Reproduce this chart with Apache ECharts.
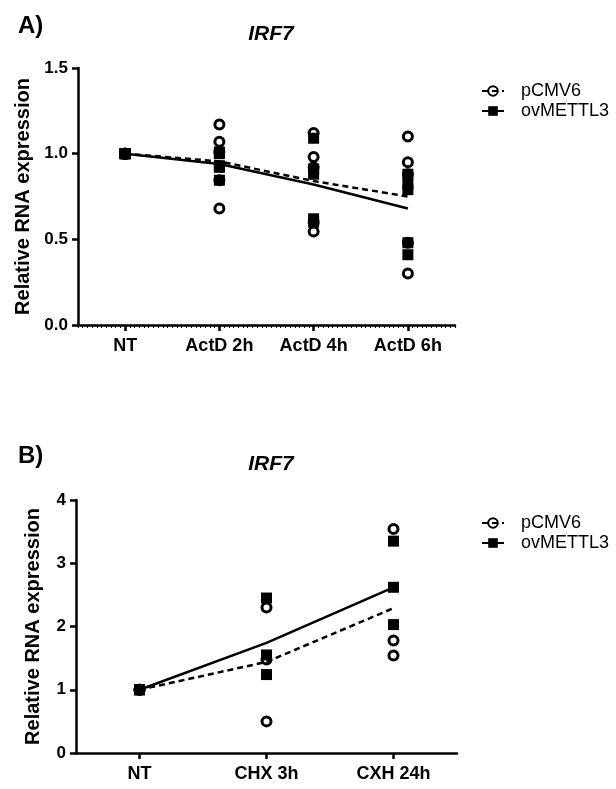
<!DOCTYPE html>
<html><head><meta charset="utf-8">
<script src="https://cdn.jsdelivr.net/npm/echarts@6/dist/echarts.min.js"></script>
<style>html,body{margin:0;padding:0;background:#fff}#c{width:616px;height:789px}</style>
</head><body><div id="c"></div>
<script>
// ---- Panel A data ----
const categoriesA = ['NT', 'ActD 2h', 'ActD 4h', 'ActD 6h'];
const pcmv6A = [[1, 1, 1, 1, 1], [1.17, 1.07, 1.01, 0.845, 0.68], [1.12, 0.98, 0.92, 0.60, 0.545], [1.10, 0.95, 0.88, 0.48, 0.30]];
const ovA = [[1, 1, 1, 1, 1], [1.01, 1.00, 0.93, 0.92, 0.845], [1.09, 0.91, 0.88, 0.62, 0.60], [0.88, 0.82, 0.79, 0.48, 0.41]];
const pcmv6MeanA = [1.0, 0.955, 0.84, 0.75];
const ovMeanA = [1.0, 0.94, 0.82, 0.68];
const yMaxA = 1.5, yStepA = 0.5;

// ---- Panel B data ----
const categoriesB = ['NT', 'CHX 3h', 'CXH 24h'];
const pcmv6B = [[1, 1, 1], [2.30, 1.48, 0.50], [3.54, 1.78, 1.54]];
const ovB = [[1, 1, 1], [2.45, 1.55, 1.24], [3.35, 2.62, 2.03]];
const pcmv6MeanB = [1.0, 1.44, 2.29];
const ovMeanB = [1.0, 1.74, 2.62];
const yMaxB = 4, yStepB = 1;

const FONT = 'Liberation Sans, Arial, sans-serif';
const chart = echarts.init(document.getElementById('c'), null, {renderer: 'canvas'});

function flat(groups) { return groups.flatMap((g, i) => g.map(v => [i, v])); }

const circleStyle = {color: 'rgba(0,0,0,0)', borderColor: '#000', borderWidth: 3, opacity: 1};
const squareStyle = {color: '#000', borderWidth: 0, opacity: 1};

function yAxisDef(grid, max, step, digits, gap) {
  return {
    type: 'value', gridIndex: grid, min: 0, max: max, interval: step,
    name: 'Relative RNA expression', nameLocation: 'middle', nameGap: gap,
    nameTextStyle: {fontFamily: FONT, fontWeight: 'bold', fontSize: 20, color: '#000'},
    axisLine: {show: true, onZero: false, lineStyle: {color: '#000', width: 2.5}},
    axisTick: {show: true, length: 6, lineStyle: {color: '#000', width: 2.5}},
    axisLabel: {fontFamily: FONT, fontWeight: 'bold', fontSize: 17, color: '#000', margin: 10,
      formatter: v => v.toFixed(digits)},
    splitLine: {show: false}
  };
}
function xAxisDef(grid, cats) {
  return {
    type: 'category', gridIndex: grid, data: cats, boundaryGap: true,
    axisLine: {show: true, onZero: false, lineStyle: {color: '#000', width: 2.5}},
    axisTick: {show: true, alignWithLabel: true, length: 6, lineStyle: {color: '#000', width: 2.5}},
    axisLabel: {fontFamily: FONT, fontWeight: 'bold', fontSize: 18, color: '#000', margin: 12, interval: 0},
    splitLine: {show: false}
  };
}

function seriesFor(idx, pc, ov, pcMean, ovMean) {
  return [
    {name: 'pCMV6', type: 'line', xAxisIndex: idx, yAxisIndex: idx, data: pcMean,
      symbol: 'circle', showSymbol: false, z: 2, silent: true,
      itemStyle: circleStyle,
      lineStyle: {color: '#000', width: 2.5, type: [6, 4]}},
    {name: 'ovMETTL3', type: 'line', xAxisIndex: idx, yAxisIndex: idx, data: ovMean,
      symbol: 'rect', showSymbol: false, z: 2, silent: true,
      itemStyle: squareStyle,
      lineStyle: {color: '#000', width: 2.5, type: 'solid'}},
    {name: 'ovMETTL3', type: 'scatter', xAxisIndex: idx, yAxisIndex: idx, data: flat(ov),
      symbol: 'rect', symbolSize: 11, z: 3, itemStyle: squareStyle, silent: true},
    {name: 'pCMV6', type: 'scatter', xAxisIndex: idx, yAxisIndex: idx, data: flat(pc),
      symbol: 'circle', symbolSize: 9, z: 4, itemStyle: circleStyle, silent: true}
  ];
}

function legendDef(top) {
  return {
    orient: 'vertical', left: 476, top: top, itemGap: 2, itemWidth: 22, itemHeight: 12,
    selectedMode: false,
    textStyle: {fontFamily: FONT, fontSize: 18, color: '#000', padding: [0, 0, 0, 12]},
    data: ['pCMV6', 'ovMETTL3']
  };
}

const option = {
  animation: false,
  backgroundColor: '#fff',
  title: [
    {text: 'A)', left: 13, top: 9, textStyle: {fontFamily: FONT, fontWeight: 'bold', fontSize: 24, color: '#000'}},
    {text: 'IRF7', left: 266, top: 19, textAlign: 'center', textStyle: {fontFamily: FONT, fontWeight: 'bold', fontStyle: 'italic', fontSize: 21, color: '#000'}},
    {text: 'B)', left: 13, top: 439, textStyle: {fontFamily: FONT, fontWeight: 'bold', fontSize: 24, color: '#000'}},
    {text: 'IRF7', left: 266, top: 449, textAlign: 'center', textStyle: {fontFamily: FONT, fontWeight: 'bold', fontStyle: 'italic', fontSize: 21, color: '#000'}}
  ],
  legend: [legendDef(77), legendDef(509)],
  grid: [
    {left: 78, right: 161, top: 68, height: 257},
    {left: 76, right: 159, top: 500, height: 253}
  ],
  xAxis: [
    xAxisDef(0, categoriesA),
    xAxisDef(1, categoriesB),
    {type: 'value', gridIndex: 0, min: -0.5, max: 3.5, interval: 0.05, position: 'bottom',
      axisLine: {show: false, onZero: false}, axisLabel: {show: false}, splitLine: {show: false},
      axisTick: {show: true, length: 3, lineStyle: {color: '#000', width: 1}}}
  ],
  yAxis: [
    yAxisDef(0, yMaxA, yStepA, 1, 42),
    yAxisDef(1, yMaxB, yStepB, 0, 33)
  ],
  series: [
    ...seriesFor(0, pcmv6A, ovA, pcmv6MeanA, ovMeanA),
    ...seriesFor(1, pcmv6B, ovB, pcmv6MeanB, ovMeanB)
  ]
};
chart.setOption(option);
</script>
</body></html>
